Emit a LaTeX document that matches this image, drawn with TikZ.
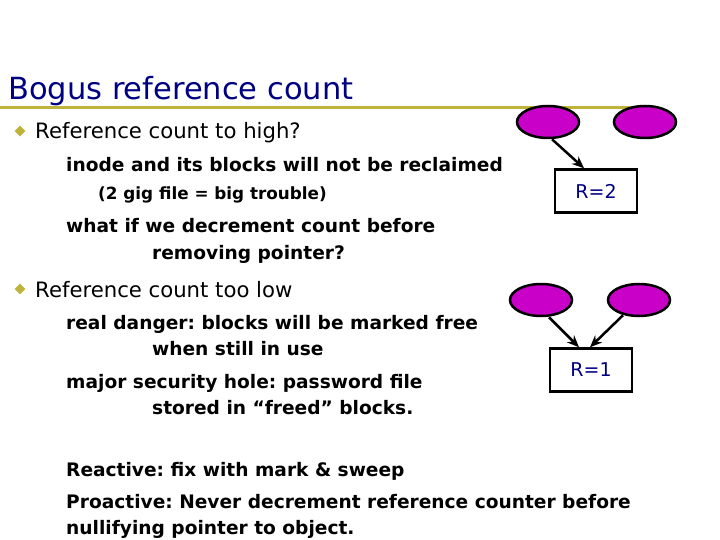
\documentclass[tikz,border=0pt]{standalone}
\usepackage{fontspec}
\setmainfont{DejaVu Sans}
\usetikzlibrary{shapes.geometric,arrows.meta}
\definecolor{olive}{RGB}{190,180,60}
\definecolor{navy}{RGB}{0,0,130}
\definecolor{mag}{RGB}{200,0,200}
\tikzset{
 t/.style={anchor=base west,inner sep=0pt},
 body/.style={t,font=\fontsize{18.6}{19}\selectfont\bfseries},
 big/.style={t,font=\fontsize{21.2}{22}\selectfont},
 blob/.style={ellipse,draw=black,line width=2.5pt,fill=mag,minimum width=62pt,minimum height=32pt},
 rbox/.style={draw=black,line width=2.5pt,minimum width=82pt,minimum height=43pt,text=navy,font=\fontsize{19}{19}\selectfont},
 arr/.style={-{Stealth[length=12pt,width=10pt]},line width=2.5pt},
 dia/.style={diamond,fill=olive,inner sep=0pt,minimum size=11pt}
}
\begin{document}
\frenchspacing
\begin{tikzpicture}[x=1pt,y=-1pt]
\useasboundingbox[fill=white] (0,0) rectangle (720,540);
\coordinate (l0) at (0,108); \coordinate (l1) at (632,108);
\draw[olive,line width=3pt] (l0) -- (l1);
\node[t,text=navy,font=\fontsize{30.5}{31}\selectfont] (title) at (8,100) {Bogus reference count};
\node[dia] (d1) at (20,131) {};
\node[big] (b1) at (35,139) {Reference count to high?};
\node[body] (a1) at (66,172) {inode and its blocks will not be reclaimed};
\node[body,font=\fontsize{16.8}{17}\selectfont\bfseries] (a2) at (98,200) {(2 gig file = big trouble)};
\node[body] (a3) at (66,233) {what if we decrement count before};
\node[body] (a4) at (152,259) {removing pointer?};
\node[dia] (d2) at (20,289) {};
\node[big] (b2) at (35,297) {Reference count too low};
\node[body] (c1) at (66,329) {real danger: blocks will be marked free};
\node[body] (c2) at (152,355) {when still in use};
\node[body] (c3) at (66,388) {major security hole: password file};
\node[body] (c4) at (152,414) {stored in “freed” blocks.};
\node[body] (e1) at (66,476) {Reactive: fix with mark \& sweep};
\node[body] (e2) at (66,508) {Proactive: Never decrement reference counter before};
\node[body] (e3) at (66,534) {nullifying pointer to object.};
\node[blob] (o1) at (548,122) {};
\node[blob] (o2) at (645,122) {};
\node[rbox] (r2) at (596,191) {R=2};
\node[blob] (o3) at (541,300) {};
\node[blob] (o4) at (639,300) {};
\node[rbox] (r1) at (591,370) {R=1};
\draw[arr] (o1.south) ++(4,0) -- ([xshift=-12pt]r2.north);
\draw[arr] (o3.south) ++(8,0) -- ([xshift=-12pt]r1.north);
\draw[arr] (o4.south) ++(-16,-2) -- ([xshift=-1pt]r1.north);
\end{tikzpicture}
\end{document}
